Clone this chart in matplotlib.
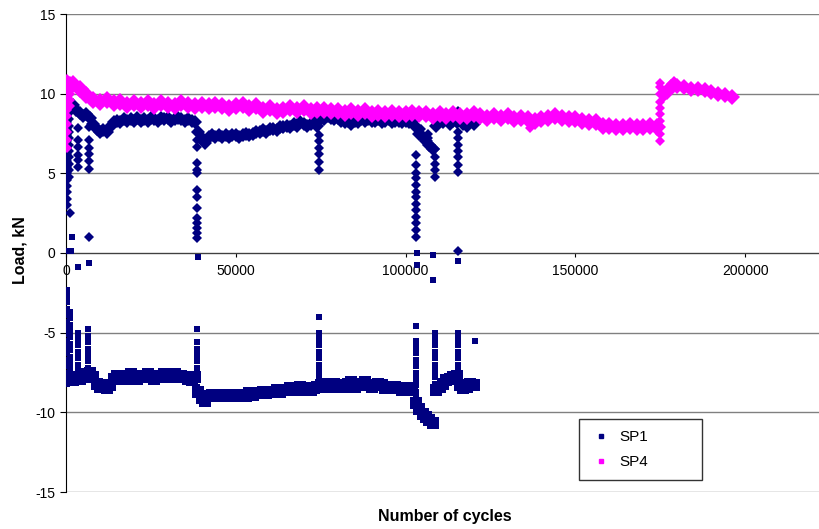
import numpy as np
import matplotlib
matplotlib.use("Agg")
import matplotlib.pyplot as plt
from matplotlib.lines import Line2D

# SP1 peak load (tension side), sampled every 1000 cycles
sp1_max_cycles = np.arange(2000, 121000, 1000)
sp1_max_load = [9.3, 9.0, 8.8, 8.6, 8.7, 8.5, 8.1, 7.8, 7.6, 7.7,
                7.6, 7.9, 8.2, 8.3, 8.2, 8.4, 8.3, 8.4, 8.3, 8.5,
                8.3, 8.4, 8.3, 8.5, 8.4, 8.3, 8.5, 8.4, 8.5, 8.3,
                8.4, 8.5, 8.4, 8.3, 8.4, 8.3, 8.2, 7.6, 7.2, 6.9,
                7.3, 7.4, 7.3, 7.4, 7.3, 7.4, 7.3, 7.4, 7.4, 7.3,
                7.4, 7.5, 7.4, 7.5, 7.6, 7.6, 7.7, 7.6, 7.8, 7.8,
                7.7, 7.9, 7.9, 8.0, 7.9, 8.1, 8.0, 8.2, 8.1, 8.0,
                8.1, 8.2, 8.0, 8.6, 8.4, 8.6, 8.5, 8.4, 8.5, 8.3,
                8.2, 8.3, 8.1, 8.3, 8.2, 8.4, 8.3, 8.4, 8.3, 8.3,
                8.4, 8.2, 8.3, 8.4, 8.2, 8.3, 8.3, 8.2, 8.3, 8.2,
                8.3, 7.9, 7.5, 7.3, 7.0, 6.8, 6.5, 8.0, 8.3, 8.2,
                8.4, 8.1, 8.3, 8.2, 8.4, 8.1, 8.0, 8.2, 8.1]

# SP1 peak load (compression side)
sp1_min_cycles = np.arange(2000, 121000, 1000)
sp1_min_load = [-8.0, -7.8, -7.9, -7.6, -7.7, -7.5,
                -7.8, -8.2, -8.4, -8.3, -8.5, -8.3, -7.9, -7.7, -7.9, -7.7,
                -7.9, -7.6, -7.8, -7.9, -7.7, -7.8, -7.6, -7.8, -7.9, -7.7,
                -7.8, -7.6, -7.8, -7.7, -7.6, -7.8, -7.7, -7.8, -7.9, -8.0,
                -7.8, -8.7, -9.1, -9.3, -9.0, -8.9, -9.0, -8.9, -9.0, -8.9,
                -9.0, -9.0, -8.9, -9.0, -8.9, -9.0, -8.8, -8.9, -8.8, -8.8,
                -8.7, -8.8, -8.7, -8.7, -8.6, -8.7, -8.6, -8.6, -8.5, -8.6,
                -8.5, -8.4, -8.6, -8.5, -8.6, -8.5, -8.4, -8.3, -8.2, -8.4,
                -8.3, -8.2, -8.4, -8.3, -8.4, -8.2, -8.1, -8.4, -8.3, -8.2,
                -8.1, -8.3, -8.4, -8.3, -8.2, -8.3, -8.5, -8.4, -8.5, -8.4,
                -8.5, -8.6, -8.5, -8.6, -8.5, -9.4, -9.8, -10.1, -10.3, -10.5,
                -10.7, -8.6, -8.4, -8.2, -8.0, -7.9, -7.8, -7.7, -8.3, -8.5,
                -8.4, -8.2, -8.3]

# SP1 drops after each stop/restart (tension side)
sp1_max_drop_cycles = [300, 900, 1200, 3600, 6800, 38500, 74400, 103000,
                       104500, 106500, 108700, 115300]
sp1_max_drop_load = [
    [3.0, 3.4, 3.8, 4.2, 4.6, 5.0, 5.4, 5.8, 6.2, 6.6, 7.0, 7.4, 7.8, 8.2, 8.6, 9.0],
    [4.8, 5.2, 5.6, 6.0, 6.4, 6.8, 7.2, 7.6, 8.0, 8.4, 8.8, 9.2, 9.6],
    [2.5],
    [5.4, 5.85, 6.15, 6.65, 7.1, 7.85],
    [5.3, 5.8, 6.2, 6.6, 7.1, 7.9, 1.0],
    [7.1, 6.65, 5.65, 5.2, 5.0, 3.95, 3.5, 2.8, 2.2, 1.9, 1.55, 1.25, 0.95],
    [8.2, 7.4, 7.0, 6.6, 6.2, 5.7, 5.2],
    [6.15, 5.5, 5.0, 4.7, 4.25, 3.8, 3.5, 3.1, 2.7, 2.25, 1.9, 1.45, 1.0],
    [7.8, 7.5],
    [7.5, 7.2],
    [6.5, 6.0, 5.6, 5.2, 4.8],
    [8.9, 7.6, 7.2, 6.8, 6.4, 6.0, 5.5, 5.1, 0.1],
]

# SP1 jumps after each stop/restart (compression side)
sp1_min_jump_cycles = [300, 1300, 3400, 6600, 38500, 74400, 103000, 108700,
                       115300, 120300]
sp1_min_jump_load = [
    [-2.3, -2.7, -3.1, -3.5, -3.9, -4.3, -4.7, -5.1, -5.5, -5.9, -6.3, -6.7, -7.1, -7.5, -7.9, -8.2],
    [-3.7, -4.1, -4.5, -4.9, -5.3, -5.7, -6.1, -6.5, -6.9, -7.3, -7.7, -8.1],
    [-5.0, -5.4, -5.8, -6.2, -6.6, -7.0, -7.4, -7.8, -8.1],
    [-4.8, -5.2, -5.6, -6.0, -6.4, -6.8, -7.2, -7.6, -8.0],
    [-4.8, -5.6, -6.0, -6.4, -6.8, -7.2, -7.6, -8.0, -8.4],
    [-4.0, -5.0, -5.4, -5.8, -6.2, -6.6, -7.0, -7.4, -7.8],
    [-4.6, -5.5, -5.9, -6.3, -6.7, -7.1, -7.5, -7.9, -8.3, -8.7, -9.1],
    [-5.0, -5.4, -5.8, -6.2, -6.6, -7.0, -7.4, -7.8, -8.2, -8.6],
    [-5.0, -5.4, -5.8, -6.2, -6.6, -7.0, -7.4, -7.8],
    [-5.5],
]

# SP1 readings close to zero
sp1_zero_cycles = [500, 1500, 1800, 3500, 6800, 38800, 103200, 103200, 108000, 108000, 115300]
sp1_zero_load = [0.1, 0.1, 1.0, -0.9, -0.6, -0.25, 0.0, -0.75, -0.1, -1.7, -0.5]

# SP4 peak load
sp4_cycles = np.arange(2000, 176000, 2000)
sp4_load = [10.6, 10.3, 9.9, 9.6, 9.5, 9.6, 9.4, 9.5, 9.3, 9.4,
            9.3, 9.4, 9.2, 9.4, 9.3, 9.2, 9.4, 9.3, 9.2, 9.3,
            9.2, 9.3, 9.2, 9.1, 9.2, 9.3, 9.1, 9.2, 9.0, 9.1,
            8.9, 9.0, 9.1, 9.0, 9.1, 8.9, 9.0, 9.0, 8.9, 8.9,
            8.8, 8.9, 8.8, 8.9, 8.7, 8.8, 8.7, 8.8, 8.7, 8.7,
            8.8, 8.7, 8.7, 8.6, 8.7, 8.6, 8.7, 8.6, 8.6, 8.7,
            8.6, 8.5, 8.6, 8.5, 8.6, 8.4, 8.5, 8.4, 8.3, 8.4,
            8.5, 8.6, 8.5, 8.4, 8.4, 8.3, 8.2, 8.2, 8.0, 8.0,
            7.9, 7.9, 8.0, 7.9, 7.9, 8.0, 7.9]
sp4_late_cycles = [176000, 177000, 178000, 179000, 180000, 182000, 184000,
                   186000, 188000, 190000, 192000, 194000, 196000]
sp4_late_load = [10.0, 10.1, 10.4, 10.6, 10.5, 10.4, 10.3, 10.3, 10.2, 10.1,
                 10.0, 9.9, 9.8]
sp4_jump_cycles = [400, 1200, 175000]
sp4_jump_load = [
    [6.6, 7.1, 7.6, 8.1, 8.6, 9.0, 9.4, 9.8, 10.2, 10.6, 10.9],
    [9.2, 9.6, 10.0, 10.4, 10.8],
    [7.0, 7.5, 7.9, 8.3, 8.7, 9.1, 9.5, 10.0, 10.4, 10.7],
]
sp4_odd_cycles = [136500]
sp4_odd_load = [7.85]

navy = '#000080'
pink = '#FF00FF'

plt.rcParams['font.family'] = ['Liberation Sans', 'DejaVu Sans']
plt.rcParams['axes.unicode_minus'] = False
fig = plt.figure(figsize=(8.2, 5.29), dpi=100)
ax = fig.add_axes([66 / 820, 1 - 492 / 529, 1 - 66 / 820, (492 - 14) / 529])

# SP1
ax.plot(sp1_max_cycles, sp1_max_load, 'D', color=navy, ms=7.5, mew=0, zorder=3)
for c, vals in zip(sp1_max_drop_cycles, sp1_max_drop_load):
    ax.plot([c] * len(vals), vals, 'D', color=navy, ms=5, mew=0, zorder=3)
ax.plot(sp1_min_cycles, sp1_min_load, 's', color=navy, ms=8.5, mew=0, zorder=3)
for c, vals in zip(sp1_min_jump_cycles, sp1_min_jump_load):
    ax.plot([c] * len(vals), vals, 's', color=navy, ms=4.5, mew=0, zorder=3)
ax.plot(sp1_zero_cycles, sp1_zero_load, 's', color=navy, ms=4.5, mew=0, zorder=3)

# SP4
ax.plot(sp4_cycles, sp4_load, 'D', color=pink, ms=9, mew=0, zorder=4)
ax.plot(sp4_late_cycles, sp4_late_load, 'D', color=pink, ms=8.5, mew=0, zorder=4)
for c, vals in zip(sp4_jump_cycles, sp4_jump_load):
    ax.plot([c] * len(vals), vals, 'D', color=pink, ms=5, mew=0, zorder=4)
ax.plot(sp4_odd_cycles, sp4_odd_load, 'D', color=pink, ms=5, mew=0, zorder=4)

ax.set_xlim(0, 222000)
ax.set_ylim(-15, 15)
ax.set_yticks(np.arange(-15, 16, 5))
ax.set_xticks([0, 50000, 100000, 150000, 200000])
ax.yaxis.grid(True, color='#808080', lw=1)
ax.set_axisbelow(True)
ax.spines['top'].set_visible(False)
ax.spines['right'].set_visible(False)
ax.spines['bottom'].set_position(('data', 0))
ax.spines['bottom'].set_color('#404040')
ax.spines['left'].set_color('black')
ax.tick_params(axis='both', labelsize=10, length=4, color='black')
ax.tick_params(axis='x', length=3, pad=5)

fig.text(445 / 820, 1 - 517 / 529, 'Number of cycles', ha='center', va='center',
         fontsize=11.5, fontweight='bold')
fig.text(20 / 820, 1 - 250 / 529, 'Load, kN', ha='center', va='center',
         rotation=90, fontsize=11.5, fontweight='bold')

handles = [Line2D([], [], ls='none', marker='s', ms=3.5, color=navy),
           Line2D([], [], ls='none', marker='s', ms=3.5, color=pink)]
leg = ax.legend(handles, ['SP1', 'SP4'], loc='lower left',
                bbox_to_anchor=(0.680, 0.025, 0.164, 0.126), mode='expand',
                fontsize=11, frameon=True, fancybox=False, borderpad=0.7,
                handlelength=1.5, handletextpad=0.45, labelspacing=0.75,
                borderaxespad=0)
leg.get_frame().set_edgecolor('black')
leg.get_frame().set_linewidth(1)

fig.savefig('out.png', dpi=100)
